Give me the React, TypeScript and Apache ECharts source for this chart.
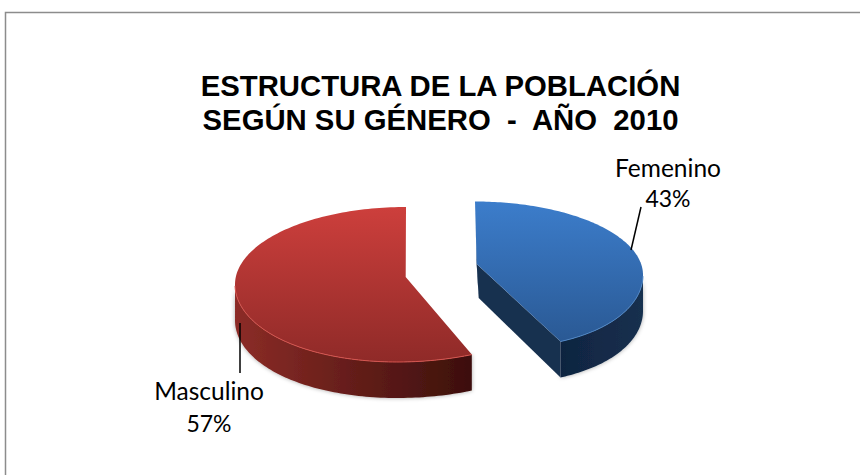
import React, { useEffect, useRef } from "react";
import * as echarts from "echarts";

const titleLines = ["ESTRUCTURA DE LA POBLACIÓN", "SEGÚN SU GÉNERO  -  AÑO  2010"];
const categories = ["Femenino", "Masculino"];
const values = [43, 57];

// Drawing geometry of each exploded 3D wedge, separate from the data.
const layouts = [
  {
    cx: 475, cy: 275, rx: 168, ry: 73.5, apexX: 476.7, apexY: 264, frontShift: 14, depth: 36,
    top: ["#3c7dcb", "#2a5994"], side: ["#102440", "#15304f"], wall: "#17314f", rim: "#4f87c6",
    leader: [[641, 207], [631, 250]], labelX: 668, labelY1: 167, labelY2: 198,
  },
  {
    cx: 406, cy: 284.5, rx: 171, ry: 77.5, apexX: 405.7, apexY: 277, frontShift: -7, depth: 36,
    top: ["#cd3f3c", "#8f2a28"], side: ["#8c2c27", "#3c0f0c"], wall: "#5a1714", rim: "#d6554f",
    leader: [[240, 323], [240, 373]], labelX: 209, labelY1: 390, labelY2: 423,
  },
];

const NAME_FONT = '24.5px Lato, "Open Sans", sans-serif';
const PERCENT_FONT = '23px Lato, "Open Sans", sans-serif';

function renderSlice(params: any, api: any) {
  const i = params.dataIndex;
  const L = layouts[i];
  const total = values.reduce((a, b) => a + b, 0);
  const before = values.slice(0, i).reduce((a, b) => a + b, 0);
  const a0 = (before / total) * 360;
  const a1 = ((before + api.value(1)) / total) * 360;
  const frontLimit = 0.905 * L.ry;
  const pt = (deg: number): number[] => {
    const r = (deg * Math.PI) / 180;
    const x = L.cx + L.rx * Math.sin(r);
    const y = L.cy - L.ry * Math.cos(r);
    const d = Math.max(0, y - L.cy) / frontLimit;
    return [x + L.frontShift * d * d, y];
  };
  const arc: number[][] = [];
  const front: number[][] = [];
  for (let k = 0; k <= 160; k++) {
    const deg = a0 + ((a1 - a0) * k) / 160;
    arc.push(pt(deg));
    if (deg >= 90 && deg <= 270) front.push(pt(deg));
  }
  const lowered = (p: number[]) => [p[0], p[1] + L.depth];
  const minX = Math.min(...front.map((p) => p[0]));
  const maxX = Math.max(...front.map((p) => p[0]));
  const topPts = [[L.apexX, L.apexY], ...arc];
  const minY = Math.min(...arc.map((p) => p[1]));
  const maxY = Math.max(...arc.map((p) => p[1]));
  const halo = { shadowBlur: 4, shadowColor: "rgba(0,0,0,0.35)" };
  const children: any[] = [];
  children.push({
    type: "polygon",
    shape: { points: [...front, ...front.slice().reverse().map(lowered)] },
    style: {
      ...halo,
      fill: { type: "linear", x: minX, y: 0, x2: maxX, y2: 0, global: true,
        colorStops: [{ offset: 0, color: L.side[0] }, { offset: 1, color: L.side[1] }] },
    },
  });
  if (i === 0) {
    const end = arc[arc.length - 1];
    const first = arc[0];
    const apex = [L.apexX, L.apexY];
    const wallBase = [apex[0] + 2, apex[1] + 34];
    // Inner cut faces that stay visible on this wedge: the front one and the thin sliver at the top.
    children.push({
      type: "polygon",
      shape: { points: [apex, end, lowered(end), wallBase] },
      style: { fill: L.wall },
    });
    children.push({
      type: "polygon",
      shape: { points: [first, apex, wallBase, [first[0] + 1, first[1] + 36]] },
      style: { fill: "#1a3557" },
    });
  }
  children.push({
    type: "polygon",
    shape: { points: topPts },
    style: {
      fill: { type: "linear", x: 0, y: minY, x2: 0, y2: maxY, global: true,
        colorStops: [{ offset: 0, color: L.top[0] }, { offset: 1, color: L.top[1] }] },
    },
  });
  children.push({
    type: "polyline",
    shape: { points: front },
    style: { fill: "none", stroke: L.rim, lineWidth: 1 },
  });
  children.push({
    type: "line",
    shape: { x1: L.leader[0][0], y1: L.leader[0][1], x2: L.leader[1][0], y2: L.leader[1][1] },
    style: { stroke: "#000", lineWidth: 1.5 },
  });
  children.push({
    type: "text",
    style: { text: categories[i], x: L.labelX, y: L.labelY1, font: NAME_FONT, fill: "#000", align: "center", verticalAlign: "middle" },
  });
  children.push({
    type: "text",
    style: { text: `${api.value(1)}%`, x: L.labelX, y: L.labelY2, font: PERCENT_FONT, fill: "#000", align: "center", verticalAlign: "middle" },
  });
  return { type: "group", children };
}

export default function App() {
  const ref = useRef<HTMLDivElement>(null);
  useEffect(() => {
    const chart = echarts.init(ref.current!, undefined, { renderer: "svg" });
    chart.setOption({
      animation: false,
      backgroundColor: "#fff",
      title: {
        text: titleLines.join("\n"),
        left: 435.5,
        top: 63,
        textAlign: "center",
        textStyle: {
          fontFamily: '"Liberation Sans", Arial, sans-serif',
          fontWeight: "bold",
          fontSize: 29.3,
          lineHeight: 34,
          color: "#000",
        },
      },
      graphic: [
        {
          type: "rect",
          shape: { x: 5.5, y: 12.5, width: 900, height: 500 },
          style: { fill: "none", stroke: "#8c8c8c", lineWidth: 1.5 },
        },
      ],
      series: [
        {
          type: "custom",
          coordinateSystem: "none",
          clip: false,
          data: categories.map((c, i) => [c, values[i]]),
          renderItem: renderSlice,
        },
      ],
    });
    return () => chart.dispose();
  }, []);
  return <div ref={ref} style={{ position: "fixed", left: 0, top: 0, width: 860, height: 475 }} />;
}
